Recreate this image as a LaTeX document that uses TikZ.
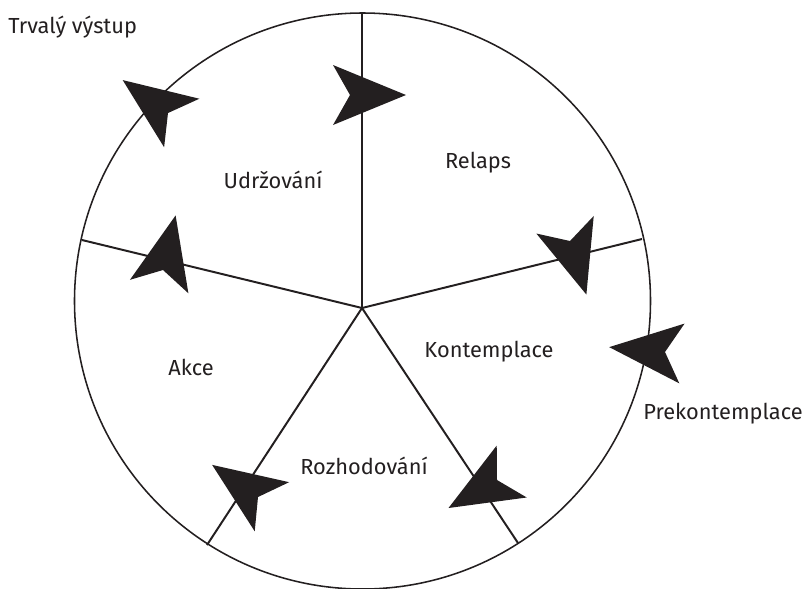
\documentclass[tikz,border=0pt]{standalone}
\usepackage{fontspec}
\setmainfont{Fira Sans}
\usetikzlibrary{positioning}
\definecolor{ink}{RGB}{35,31,32}

\tikzset{
  stage/.style={font=\fontsize{15.5}{18}\selectfont, inner sep=0pt, text=ink},
  spoke/.style={line width=1.4pt, draw=ink},
  pics/dart/.style={code={\fill[ink] (56,0) -- (-17,30) -- (0,0) -- (-17,-30) -- cycle;}}
}

\begin{document}
\begin{tikzpicture}[x=0.025cm, y=-0.025cm]
  \useasboundingbox (0,0) rectangle (802,588);
  \clip (0,0) rectangle (802,588);

  % wheel
  \coordinate (c) at (362.5,301);
  \coordinate (hub) at (362,308);
  \draw[ink, line width=1.1pt] (c) circle (288);

  \coordinate (eTop) at (362,13);
  \coordinate (eRight) at (642,239);
  \coordinate (eBotR) at (518,543);
  \coordinate (eBotL) at (207,545);
  \coordinate (eLeft) at (82,240);
  \foreach \e in {eTop,eRight,eBotR,eBotL,eLeft}
    \draw[spoke] (hub) -- (\e);

  % stages
  \node[stage] (udrz) at (273,180) {Udržování};
  \node[stage] (relaps) at (478,163) {Relaps};
  \node[stage] (kont) at (489,352) {Kontemplace};
  \node[stage] (akce) at (191,367) {Akce};
  \node[stage] (rozh) at (364,466) {Rozhodování};
  \node[stage, anchor=west] (prek) at (643,414) {Prekontemplace};
  \node[stage, anchor=west] (vystup) at (8,27) {Trvalý výstup};

  % arrows
  \pic[rotate=0] at (350,95) {dart};
  \pic[rotate=144] at (168,113) {dart};
  \pic[rotate=-73] at (570,241) {dart};
  \pic[rotate=175] at (665,352) {dart};
  \pic[rotate=-150] at (497,480) {dart};
  \pic[rotate=145] at (258,497) {dart};
  \pic[rotate=77] at (163,270) {dart};
\end{tikzpicture}
\end{document}
